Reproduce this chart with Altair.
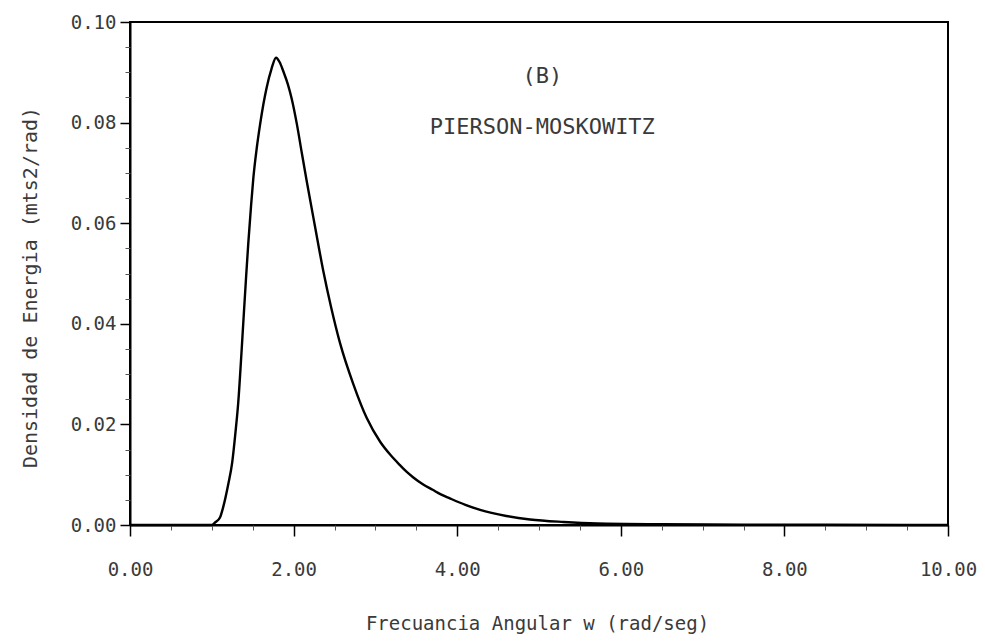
import altair as alt
import pandas as pd

# Pierson-Moskowitz spectrum, values
omega = [0.0, 0.5, 1.0, 1.04, 1.10, 1.14, 1.20, 1.25, 1.29, 1.324, 1.36, 1.386, 1.42,
         1.446, 1.48, 1.508, 1.55, 1.589, 1.63, 1.671, 1.73, 1.785, 1.83, 1.874, 1.93,
         1.976, 2.04, 2.10, 2.16, 2.26, 2.363, 2.46, 2.567, 2.73, 2.893, 3.06, 3.18,
         3.30, 3.38, 3.46, 3.58, 3.70, 3.80, 3.91, 4.10, 4.28, 4.60, 4.89, 5.30, 5.71,
         6.50, 7.50, 8.50, 10.0]
density = [0.0, 0.0, 0.0, 0.0005, 0.0015, 0.0036, 0.0080, 0.0125, 0.0185, 0.0245, 0.0335,
           0.0405, 0.0495, 0.0560, 0.0635, 0.0690, 0.0750, 0.0795, 0.0836, 0.0870, 0.0907,
           0.0929, 0.0920, 0.0902, 0.0876, 0.0848, 0.0797, 0.0740, 0.0684, 0.0595, 0.0505,
           0.0432, 0.0362, 0.0280, 0.0213, 0.0165, 0.0140, 0.0119, 0.0106, 0.0095, 0.0081,
           0.0070, 0.0061, 0.0053, 0.0040, 0.0030, 0.0018, 0.0011, 0.0006, 0.0003,
           0.00015, 0.00008, 0.00004, 0.0]

x_major = [0, 2, 4, 6, 8, 10]
x_minor = [0.5, 1.0, 1.5, 2.5, 3.0, 3.5, 4.5, 5.0, 5.5, 6.5, 7.0, 7.5, 8.5, 9.0, 9.5]
y_major = [0.0, 0.02, 0.04, 0.06, 0.08, 0.10]
y_minor = [0.005, 0.01, 0.015, 0.025, 0.03, 0.035, 0.045, 0.05, 0.055,
           0.065, 0.07, 0.075, 0.085, 0.09, 0.095]

ann_x = [5.04, 5.04]
ann_y = [0.0892, 0.0792]
ann_text = ["(B)", "PIERSON-MOSKOWITZ"]

x_title = "Frecuancia Angular w (rad/seg)"
y_title = "Densidad de Energia (mts2/rad)"

df = pd.DataFrame({"w": omega, "S": density})
ann = pd.DataFrame({"w": ann_x, "S": ann_y, "t": ann_text})

FONT = "DejaVu Sans Mono"
TXT = "#3a3a3a"

xs = alt.Scale(domain=[0, 10], nice=False, zero=False)
ys = alt.Scale(domain=[0, 0.1], nice=False, zero=False)

line = alt.Chart(df).mark_line(color="black", strokeWidth=2.4, interpolate="monotone").encode(
    x=alt.X("w:Q", scale=xs, axis=alt.Axis(
        orient="bottom", values=x_major, format=".2f", grid=False,
        domainColor="black", domainWidth=2, tickColor="black", tickWidth=1.5, tickSize=11,
        labelFont=FONT, labelFontSize=19, labelColor=TXT, labelPadding=24,
        labelFlush=False,
        title=x_title, titleFont=FONT, titleFontSize=19, titleFontWeight="normal",
        titleColor=TXT, titleX=407, titleY=98, titleBaseline="middle", titleAlign="center")),
    y=alt.Y("S:Q", scale=ys, axis=alt.Axis(
        orient="left", values=y_major, format=".2f", grid=False,
        domainColor="black", domainWidth=2, tickColor="black", tickWidth=1.5, tickSize=10,
        labelFont=FONT, labelFontSize=19, labelColor=TXT, labelPadding=4,
        labelFlush=False,
        title=y_title, titleFont=FONT, titleFontSize=20, titleFontWeight="normal",
        titleColor=TXT, titleX=-100, titleY=265, titleAngle=-90,
        titleBaseline="middle", titleAlign="center")),
)

minor = alt.Chart(df).mark_line(opacity=0).encode(
    x=alt.X("w:Q", scale=xs, axis=alt.Axis(
        orient="bottom", values=x_minor, labels=False, grid=False, domain=False,
        tickColor="#555", tickWidth=1, tickSize=5, title="")),
    y=alt.Y("S:Q", scale=ys, axis=alt.Axis(
        orient="left", values=y_minor, labels=False, grid=False, domain=False,
        tickColor="#555", tickWidth=1, tickSize=5, title="")),
)

text = alt.Chart(ann).mark_text(font=FONT, fontSize=22, color=TXT, align="center",
                                baseline="middle").encode(
    x=alt.X("w:Q", scale=xs, axis=None),
    y=alt.Y("S:Q", scale=ys, axis=None),
    text="t:N",
)

chart = alt.layer(line, minor, text).resolve_axis(x="independent", y="independent").properties(
    width=818, height=503,
    padding={"left": 130, "top": 22, "right": 37, "bottom": 119},
    autosize=alt.AutoSizeParams(type="none"),
    background="white",
).configure_view(stroke="black", strokeWidth=2)

chart.save("out.html", embed_options={"renderer": "svg", "actions": False})
